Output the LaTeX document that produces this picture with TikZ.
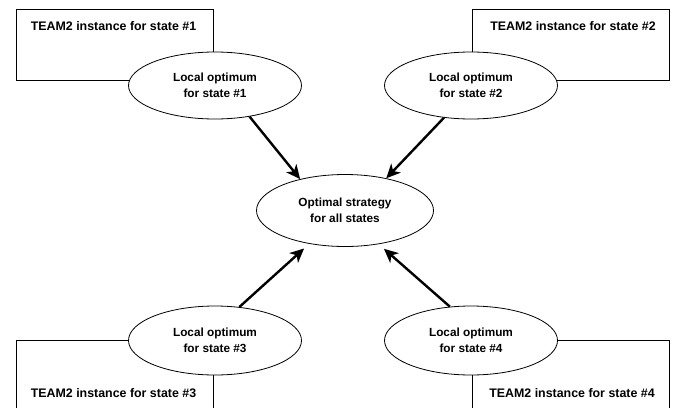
\documentclass[tikz,border=0pt]{standalone}
\usepackage{fontspec}
\setsansfont{Liberation Sans}
\usepackage{tikz}
\usetikzlibrary{arrows.meta, positioning, shapes.geometric}

\begin{document}
\begin{tikzpicture}[
        x=1pt, y=-1pt,
        font=\sffamily\bfseries\fontsize{11.8}{15.5}\selectfont,
        >=Stealth,
        teambox/.style={draw, rectangle, line width=0.8pt, inner sep=0pt,
            minimum width=197pt},
        teamlabel/.style={inner sep=0pt, align=center,
            font=\sffamily\bfseries\fontsize{12.4}{15.5}\selectfont},
        optbubble/.style={draw, ellipse, fill=white, line width=0.8pt,
            inner sep=0pt, align=center, minimum width=173pt, minimum height=67pt},
        flowarrow/.style={->, line width=2.4pt,
            -{Stealth[length=14pt, width=13pt, inset=4pt]}},
    ]

    % --- INTERNAL FIGURE PARAMETERS ---
    \pgfmathsetmacro{\figwidth}{674}
    \pgfmathsetmacro{\figheight}{407}
    \pgfmathsetmacro{\leftcol}{215}
    \pgfmathsetmacro{\rightcol}{471}
    \pgfmathsetmacro{\toprow}{85.5}
    \pgfmathsetmacro{\bottomrow}{340.5}

    % Canvas
    \clip (0,0) rectangle (\figwidth,\figheight);

    % TEAM2 instances (drawn first, the ellipses cover their corners)
    \node[teambox, minimum height=71pt] (team1) at (114.5,45.3) {};
    \node[teambox, minimum height=71pt] (team2) at (571,45.3) {};
    \node[teambox, minimum height=100pt] (team3) at (114.5,390) {};
    \node[teambox, minimum height=100pt] (team4) at (570.5,390) {};

    \node[teamlabel] (teamlabel1) at (113.5,26) {TEAM2 instance for state \#1};
    \node[teamlabel] (teamlabel2) at (573,26) {TEAM2 instance for state \#2};
    \node[teamlabel] (teamlabel3) at (113.5,393) {TEAM2 instance for state \#3};
    \node[teamlabel] (teamlabel4) at (572,393) {TEAM2 instance for state \#4};

    % Local optima
    \node[optbubble] (local1) at (\leftcol,\toprow) {Local optimum\\for state \#1};
    \node[optbubble] (local2) at (\rightcol,\toprow) {Local optimum\\for state \#2};
    \node[optbubble, minimum height=69pt] (local3) at (\leftcol,\bottomrow) {Local optimum\\for state \#3};
    \node[optbubble, minimum height=69pt] (local4) at (\rightcol,\bottomrow) {Local optimum\\for state \#4};

    % Global optimum
    \node[optbubble, minimum width=177pt, minimum height=72pt] (optimal) at (345,210.5)
        {Optimal strategy\\for all states};

    % Arrows
    \draw[flowarrow] (local1.-42) -- (optimal.145);
    \draw[flowarrow] (local2.-130) -- (optimal.38);
    \draw[flowarrow, shorten >=7pt] (local3.54) -- (optimal.-137);
    \draw[flowarrow, shorten >=7pt] (local4.122) -- (optimal.-45);

\end{tikzpicture}
\end{document}
